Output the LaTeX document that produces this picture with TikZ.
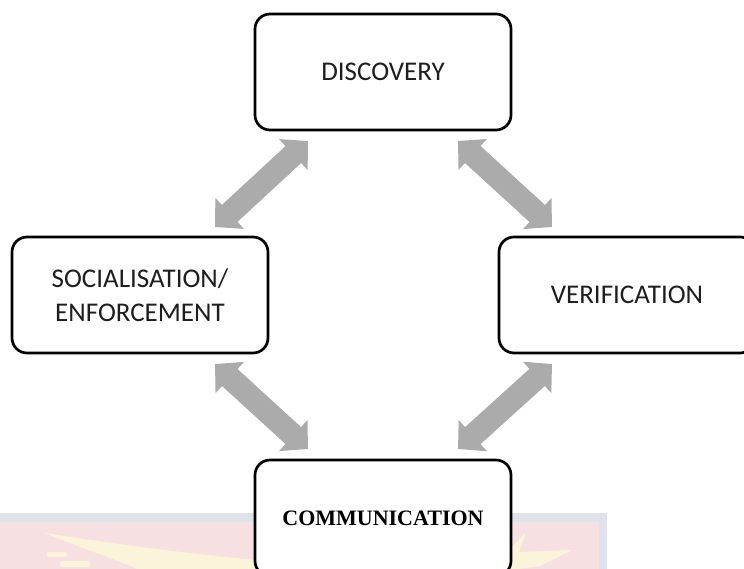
\documentclass[tikz,border=0pt]{standalone}
\usepackage{fontspec}
\setmainfont{Carlito}
\newfontfamily\serifbold{Liberation Serif}
\usetikzlibrary{arrows.meta,calc}

\definecolor{arrowgray}{RGB}{171,171,171}
\definecolor{markband}{RGB}{223,225,235}
\definecolor{markpink}{RGB}{247,224,226}
\definecolor{markgold}{RGB}{252,244,218}
\definecolor{labelink}{RGB}{30,30,30}

\tikzset{
  stagebox/.style={draw=black, line width=2.7pt, rounded corners=15pt, fill=white,
    minimum width=256pt, minimum height=116pt, inner sep=0pt, outer sep=0pt,
    align=center, text=labelink, font=\fontsize{27}{34}\selectfont},
  twoway/.style={draw=arrowgray, line width=23pt,
    {Triangle[length=20pt,width=41pt]}-{Triangle[length=20pt,width=41pt]}}
}

\begin{document}
\begin{tikzpicture}[x=1pt,y=-1pt]
  \clip (0,0) rectangle (744,568);
  \fill[white] (0,0) rectangle (744,568);

  % faint crest printed behind the lower part of the page
  \fill[markband] (-5,513) rectangle (607,575);
  \fill[markpink] (-5,522) rectangle (599,575);
  \fill[markgold] (45,533) .. controls (120,545) and (200,555) .. (256,560)
    -- (256,575) -- (150,575) .. controls (120,560) and (80,548) .. cycle;
  \fill[markgold, rounded corners=2pt] (47,552) rectangle (67,557);
  \fill[markgold, rounded corners=2pt] (60,561) rectangle (90,567);
  \fill[markgold] (511,548) -- (526,532) -- (519,552) -- (572,550)
    -- (540,566) -- (511,570) -- cycle;

  % the four stages
  \node[stagebox] (disc) at (383,72) {DISCOVERY};
  \node[stagebox] (soc) at (140,295) {SOCIALISATION/\\ENFORCEMENT};
  \node[stagebox] (ver) at (627,295) {VERIFICATION};
  \node[stagebox, font=\serifbold\bfseries\fontsize{22}{26}\selectfont, text=black]
    (comm) at (383,518) {COMMUNICATION};

  % ends of the two-way arrows between neighbouring stages
  \coordinate (sd1) at ($(soc.north east)+(-53,-10)$);
  \coordinate (sd2) at ($(disc.south west)+(53,11)$);
  \coordinate (dv1) at ($(disc.south east)+(-53,11)$);
  \coordinate (dv2) at ($(ver.north west)+(53,-10)$);
  \coordinate (sc1) at ($(soc.south east)+(-53,11)$);
  \coordinate (sc2) at ($(comm.north west)+(53,-11)$);
  \coordinate (vc1) at ($(ver.south west)+(53,11)$);
  \coordinate (vc2) at ($(comm.north east)+(-53,-11)$);

  \draw[twoway] (sd1) -- (sd2);
  \draw[twoway] (dv1) -- (dv2);
  \draw[twoway] (sc1) -- (sc2);
  \draw[twoway] (vc1) -- (vc2);
\end{tikzpicture}
\end{document}
